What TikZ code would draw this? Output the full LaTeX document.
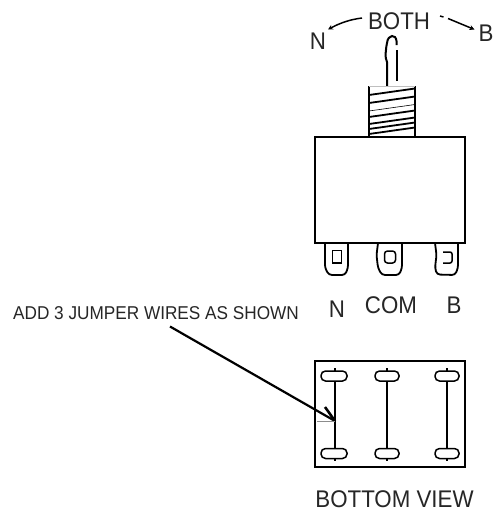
\documentclass[tikz,border=0pt]{standalone}
\usepackage{fontspec}
\usepackage{graphicx}
\usetikzlibrary{arrows.meta}
\setmainfont{Liberation Sans}
\newcommand{\tallbig}[1]{\scalebox{1}[1.08]{#1}}
\newcommand{\tallsmall}[1]{\scalebox{1}[1.08]{#1}}
\begin{document}
\begin{tikzpicture}[x=1pt,y=-1pt,
  line/.style={draw=black,line width=2pt},
  thin line/.style={draw=black,line width=1.5pt},
  pad/.style={draw=black,line width=1.8pt,rounded corners=3pt},
  swing/.style={line width=1.5pt,-{Stealth[length=5pt,width=5pt]}},
  big/.style={inner sep=0pt,font=\fontsize{22.3}{24}\selectfont,text=black!85},
  small/.style={inner sep=0pt,font=\fontsize{17.2}{19}\selectfont,text=black!85}]
\useasboundingbox (0,0) rectangle (494,512);
\fill[white] (0,0) rectangle (494,512);
% labels
\node[big] (both) at (399,21.5) {\tallbig{BOTH}};
\node[big] (n) at (318,41) {\tallbig{N}};
\node[big] (b) at (486,33.5) {\tallbig{B}};
\node[big] (ln) at (337,309) {\tallbig{N}};
\node[big] (lcom) at (391,305) {\tallbig{COM}};
\node[big] (lb) at (454,305) {\tallbig{B}};
\node[big] (bv) at (394.5,499.5) {\tallbig{BOTTOM VIEW}};
\node[small] (add) at (156,313.5) {\tallsmall{ADD 3 JUMPER WIRES AS SHOWN}};
% swing arrows
\coordinate (nc) at (328,29.5);
\coordinate (bc) at (474.5,29.5);
\draw[swing] (362,18) .. controls (350,19.5) and (340,23) .. (nc);
\draw[line width=1.5pt] (440,16) -- (443.5,17);
\draw[swing] (448,18.5) -- (bc);
% lever
\draw[line] (387,86) -- (387,62) .. controls (384.5,58) and (386,48) .. (387,43) .. controls (388,34) and (396,34) .. (396.5,41) -- (396.5,45);
\draw[line] (397,50) -- (397,81);
% threaded barrel
\draw[line] (369,86) -- (369,136.5);
\draw[line] (415,86) -- (415,136.5);
\draw[draw=black!25,line width=1pt] (369,86) -- (415,86);
\foreach \y/\w in {95/1.8,103/1.8,111/.6,117/1.8,124/1.8,129/1.8,134/1.8}
  \draw[draw=black,line width=\w pt] (369,\y) -- (415,\y-6.5);
% body
\draw[line] (315,136.5) rectangle (465,243);
% terminals
\draw[pad] (325,243) -- (325,268) -- (329,275) -- (345,275) -- (348,268) -- (348,243);
\draw[thin line] (332.5,250.5) rectangle (341.5,263);
\draw[pad] (378,243) -- (376.5,255) -- (378,268) -- (382,275) -- (399,275) -- (402,268) -- (402,243);
\draw[thin line,rounded corners=3pt] (384.5,251) rectangle (395.5,263);
\draw[pad] (435,243) -- (436.5,255) -- (435,268) -- (437,274.5) -- (455,275) -- (458,268) -- (458,243);
\draw[thin line,rounded corners=2pt] (443,252) -- (452,252) -- (452,263) -- (443,263);
% bottom view
\draw[line] (315,361) rectangle (465,467);
\foreach \x/\a/\b in {335/321/347,387/375/399,447/435/459}{
  \draw[thin line,rounded corners=4.5pt] (\a,371) rectangle (\b,381);
  \draw[thin line,rounded corners=4.5pt] (\a,448.5) rectangle (\b,458.5);
  \draw[thin line] (\x,368) -- (\x,371);
  \draw[thin line] (\x,458.5) -- (\x,461);
  \draw[line] (\x,381) -- (\x,448.5);
}
% pointer
\coordinate (tip) at (335,421);
\draw[draw=black,line width=2.2pt] (170,326.5) -- (tip);
\draw[draw=black,line width=2.6pt] (325,407) -- (tip);
\draw[draw=black!45,line width=.8pt] (317,421) -- (tip);
\end{tikzpicture}
\end{document}
